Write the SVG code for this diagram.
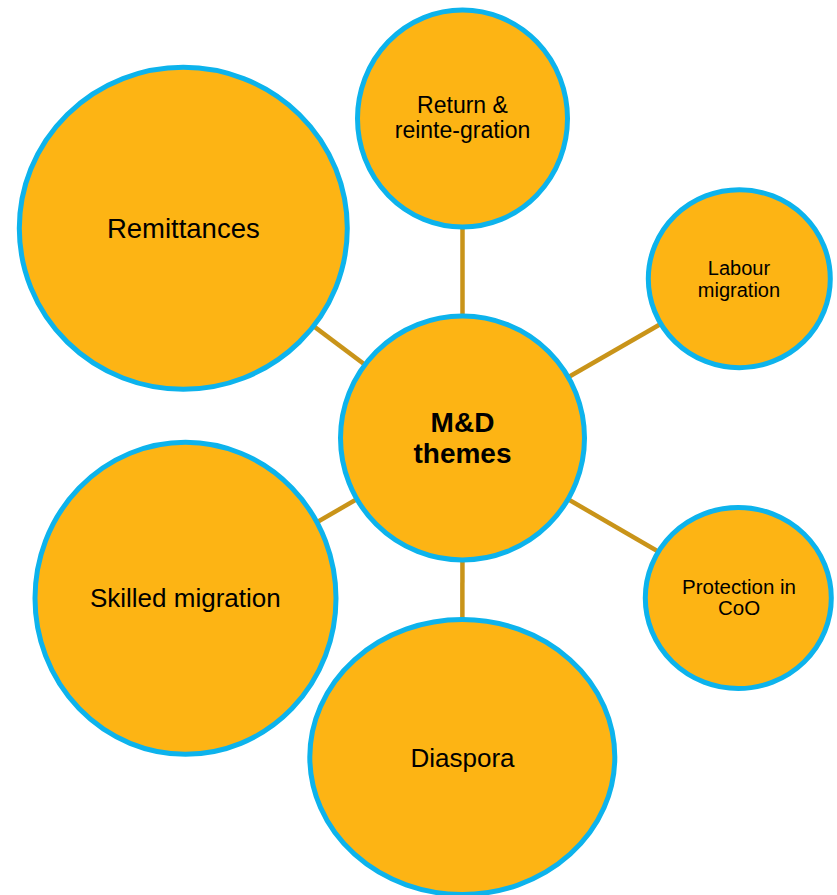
<svg xmlns="http://www.w3.org/2000/svg" width="837" height="895" viewBox="0 0 837 895">
<style>
.n{fill:#FDB414;stroke:#0DB3EC;stroke-width:5}
.c{stroke:#C99419;stroke-width:4.5;fill:none}
text{font-family:"Liberation Sans",Arial,sans-serif;fill:#000;text-anchor:middle}
.b{font-weight:bold;font-size:28px}
</style>
<rect width="837" height="895" fill="#fff"/>
<g id="connectors">
<line class="c" x1="462.5" y1="438" x2="462.5" y2="118.5"/>
<line class="c" x1="462.5" y1="438" x2="739.3" y2="278.7"/>
<line class="c" x1="462.5" y1="438" x2="738.3" y2="598"/>
<line class="c" x1="462.5" y1="438" x2="462.3" y2="757"/>
<line class="c" x1="462.5" y1="438" x2="185.5" y2="598.3"/>
<line class="c" x1="462.5" y1="438" x2="183.3" y2="228.3"/>
</g>
<g id="center">
<circle class="n" cx="462.5" cy="438" r="122"/>
<text class="b" x="462.5" y="432">M&amp;D</text>
<text class="b" x="462.5" y="463">themes</text>
</g>
<g id="return">
<ellipse class="n" cx="462.5" cy="118.5" rx="105" ry="108.5"/>
<text x="462.5" y="113.3" font-size="23">Return &amp;</text>
<text x="462.5" y="137.7" font-size="23">reinte-gration</text>
</g>
<g id="labour">
<ellipse class="n" cx="739.3" cy="278.7" rx="91" ry="89"/>
<text x="739" y="275" font-size="20">Labour</text>
<text x="739" y="296.7" font-size="20">migration</text>
</g>
<g id="protection">
<ellipse class="n" cx="738.3" cy="598" rx="93" ry="90.5"/>
<text x="739" y="594" font-size="20.5">Protection in</text>
<text x="739" y="615" font-size="20.5">CoO</text>
</g>
<g id="diaspora">
<ellipse class="n" cx="462.3" cy="757" rx="152.5" ry="137.5"/>
<text x="462.5" y="766.5" font-size="26">Diaspora</text>
</g>
<g id="skilled">
<ellipse class="n" cx="185.5" cy="598.3" rx="150.5" ry="156"/>
<text x="185.3" y="606.5" font-size="26">Skilled migration</text>
</g>
<g id="remittances">
<ellipse class="n" cx="183.3" cy="228.3" rx="164" ry="161"/>
<text x="183.3" y="238.3" font-size="27.5">Remittances</text>
</g>
</svg>
